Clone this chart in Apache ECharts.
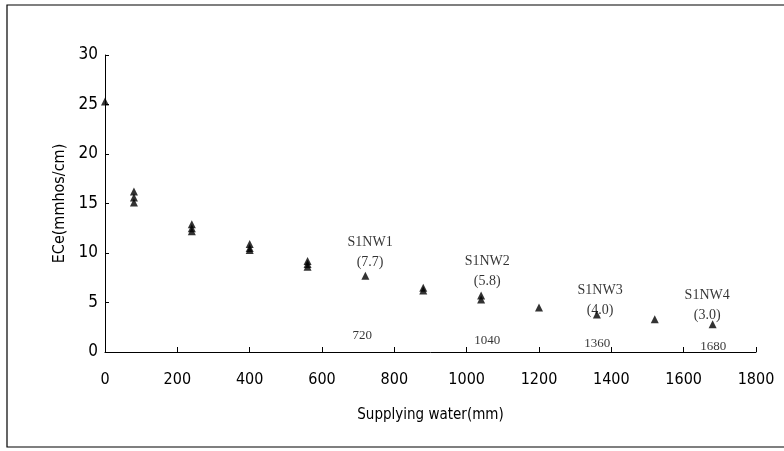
<!DOCTYPE html>
<html>
<head>
<meta charset="utf-8">
<script src="https://cdn.jsdelivr.net/npm/echarts@6/dist/echarts.min.js"></script>
<style>
  html, body { margin: 0; padding: 0; background: #fff; }
  #chart { width: 784px; height: 451px; }
</style>
</head>
<body>
<div id="chart"></div>
<script>
// Supplying water (mm) vs ECe (mmhos/cm); several readings overlap at each step
const waterX = [0, 80, 80, 80, 240, 240, 240, 400, 400, 400, 560, 560, 560, 720, 880, 880, 1040, 1040, 1200, 1360, 1520, 1680];
const eceY   = [25.3, 16.2, 15.6, 15.1, 12.9, 12.5, 12.2, 10.9, 10.5, 10.3, 9.2, 8.9, 8.6, 7.7, 6.5, 6.2, 5.7, 5.3, 4.5, 3.8, 3.3, 2.8];

// stage labels and where they sit (data units)
const stageNames = ['S1NW1\n(7.7)', 'S1NW2\n(5.8)', 'S1NW3\n(4.0)', 'S1NW4\n(3.0)'];
const stageX = [733, 1057, 1369, 1665];
const stageY = [10.1, 8.1, 5.25, 4.75];

// cumulative water under each stage
const waterMarks = ['720', '1040', '1360', '1680'];
const markX = [711, 1057, 1361, 1682];
const markY = [1.7, 1.2, 0.9, 0.5];

const tickFont = "'Liberation Sans Narrow', 'DejaVu Sans Condensed', sans-serif";
const serif = "'Liberation Serif', 'DejaVu Serif', serif";

const chart = echarts.init(document.getElementById('chart'), null, { renderer: 'canvas' });

chart.setOption({
  animation: false,
  backgroundColor: '#fff',
  grid: { left: 105, right: 28, top: 55, bottom: 99 },
  graphic: [{
    type: 'rect',
    shape: { x: 7, y: 5, width: 820, height: 442 },
    style: { fill: 'none', stroke: '#000', lineWidth: 1.2 },
    silent: true,
  }],
  xAxis: {
    type: 'value', min: 0, max: 1800, interval: 200,
    name: 'Supplying water(mm)', nameLocation: 'middle', nameGap: 56,
    nameTextStyle: { fontFamily: tickFont, fontSize: 15, color: '#000' },
    axisLine: { lineStyle: { color: '#000', width: 1 } },
    axisTick: { inside: true, length: 5, lineStyle: { color: '#000' } },
    axisLabel: { fontFamily: tickFont, fontSize: 16, color: '#000', margin: 20, formatter: v => String(v) },
    splitLine: { show: false },
  },
  yAxis: {
    type: 'value', min: 0, max: 30, interval: 5,
    name: 'ECe(mmhos/cm)', nameLocation: 'middle', nameGap: 24,
    nameTextStyle: { fontFamily: tickFont, fontSize: 16, color: '#000' },
    axisLine: { show: true, lineStyle: { color: '#000', width: 1 } },
    axisTick: { show: true, inside: true, length: 4, lineStyle: { color: '#000' } },
    axisLabel: { fontFamily: tickFont, fontSize: 17, color: '#000', margin: 7 },
    splitLine: { show: false },
  },
  series: [
    {
      type: 'scatter',
      symbol: 'triangle',
      symbolSize: 8,
      itemStyle: { color: '#000' },
      data: waterX.map((x, i) => [x, eceY[i]]),
    },
    {
      type: 'scatter',
      symbolSize: 0,
      silent: true,
      label: {
        show: true, position: 'inside', color: '#000',
        fontFamily: serif, fontSize: 14, lineHeight: 20,
        formatter: p => p.data.name,
      },
      data: stageNames.map((n, i) => ({ name: n, value: [stageX[i], stageY[i]] })),
    },
    {
      type: 'scatter',
      symbolSize: 0,
      silent: true,
      label: {
        show: true, position: 'inside', color: '#000',
        fontFamily: serif, fontSize: 13,
        formatter: p => p.data.name,
      },
      data: waterMarks.map((n, i) => ({ name: n, value: [markX[i], markY[i]] })),
    },
  ],
});
</script>
</body>
</html>
